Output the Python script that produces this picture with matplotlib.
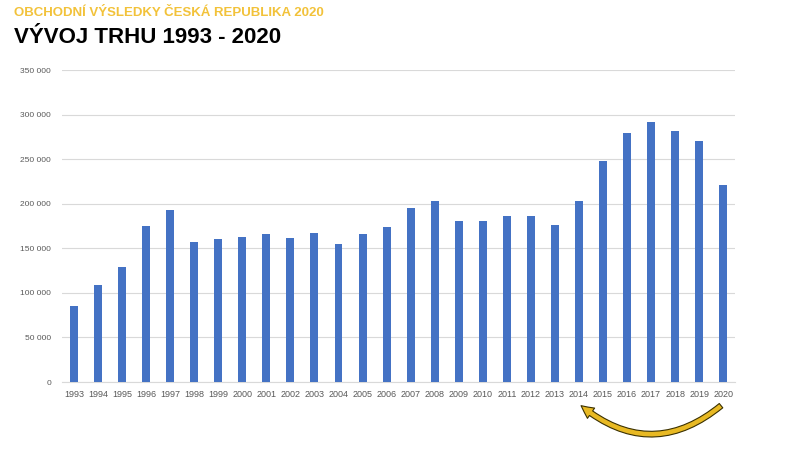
#!/usr/bin/env python3
# -*- coding: utf-8 -*-

import numpy as np
import matplotlib
matplotlib.use("Agg")
import matplotlib.pyplot as plt
from matplotlib.patches import FancyArrowPatch
from matplotlib.ticker import FuncFormatter, MultipleLocator

plt.rcParams['font.family'] = ['Liberation Sans', 'DejaVu Sans']

# data
years = [str(y) for y in range(1993, 2021)]
values = [85000, 109000, 129000, 175000, 192500, 157000, 161000, 163000, 166000, 162000,
          167500, 155000, 166500, 173500, 195000, 203500, 181000, 181000, 186500, 186000,
          176500, 203500, 248000, 279000, 291500, 282000, 270500, 220500]

supertitle = "OBCHODNÍ VÝSLEDKY ČESKÁ REPUBLIKA 2020"
title = "VÝVOJ TRHU 1993 - 2020"

bar_color = "#4472C4"
grid_color = "#D9D9D9"
tick_color = "#595959"
gold = "#F2C23A"

fig = plt.figure(figsize=(8, 4.5), dpi=100)
ax = fig.add_axes([0.0775, 0.151, 0.8415, 0.6934])

x = np.arange(len(years))
ax.bar(x, values, width=0.33, color=bar_color, zorder=3)

ax.set_xlim(-0.5, len(years) - 0.5)
ax.set_ylim(0, 350000)
ax.yaxis.set_major_locator(MultipleLocator(50000))
ax.yaxis.set_major_formatter(FuncFormatter(lambda v, p: f"{int(v):,}".replace(",", " ")))
ax.set_xticks(x)
ax.set_xticklabels(years)

ax.grid(axis='y', color=grid_color, linewidth=0.8, zorder=0)
for s in ['top', 'right', 'left']:
    ax.spines[s].set_visible(False)
ax.spines['bottom'].set_color(grid_color)
ax.tick_params(axis='both', length=0, colors=tick_color, labelsize=6)
ax.tick_params(axis='x', labelsize=6.5, pad=6)
ax.tick_params(axis='y', pad=8)

fig.text(0.018, 0.985, supertitle, color=gold, fontsize=9.5, fontweight='bold', va='top')
fig.text(0.018, 0.94, title, color='black', fontsize=16, fontweight='bold', va='top')

# curved arrow from 2020 back to 2014
arrow = FancyArrowPatch((27, -0.07), (21, -0.07),
                        transform=ax.get_xaxis_transform(),
                        connectionstyle="arc3,rad=-0.42",
                        arrowstyle="simple,head_width=9,head_length=9,tail_width=4",
                        facecolor="#E8B923", edgecolor="#3a3000", linewidth=0.8,
                        clip_on=False, zorder=5)
ax.add_patch(arrow)

fig.savefig("out.png", dpi=100)
